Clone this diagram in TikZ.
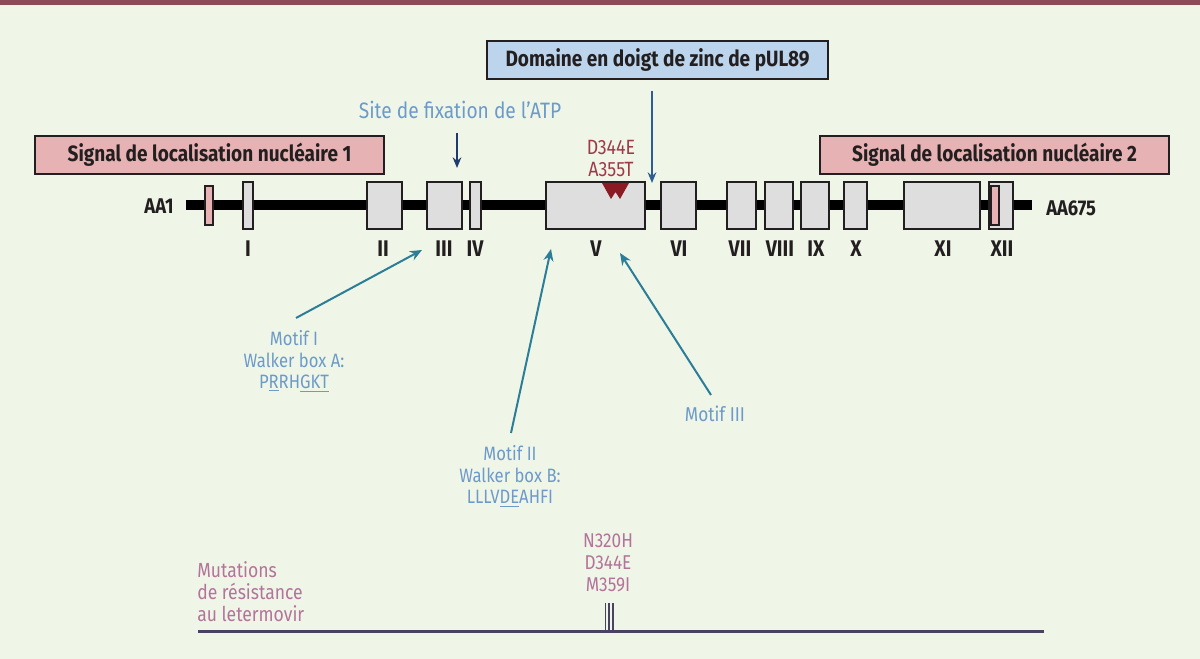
\documentclass[tikz,border=0pt]{standalone}
\usepackage{fontspec}
\setmainfont{Fira Sans}[FakeStretch=0.86]
\usetikzlibrary{arrows.meta}
\definecolor{bgc}{HTML}{EFF6E8}
\definecolor{topbar}{HTML}{8E4A58}
\definecolor{pinkbox}{HTML}{E6B2B3}
\definecolor{bluebox}{HTML}{BCD5EC}
\definecolor{graybox}{HTML}{DEDEDE}
\definecolor{darktext}{HTML}{231F20}
\definecolor{lbtext}{HTML}{6C9AC9}
\definecolor{tealc}{HTML}{2C7D97}
\definecolor{navy}{HTML}{1F3A6E}
\definecolor{zincarrow}{HTML}{2E5C94}
\definecolor{darkred}{HTML}{8B1A24}
\definecolor{redtext}{HTML}{9E3A48}
\definecolor{pinktext}{HTML}{B3739A}
\definecolor{baseln}{HTML}{4B4160}
\tikzset{
  titlebox/.style={draw=darktext, line width=1.2pt, inner sep=0pt, font=\fontsize{16.6}{19}\selectfont\bfseries, text=darktext},
  dombox/.style={draw=darktext, line width=0.9pt, fill=graybox, minimum height=47*0.75pt, inner sep=0pt},
  nlsbox/.style={draw=darktext, line width=0.9pt, fill=pinkbox, minimum height=39*0.75pt, inner sep=0pt},
  roman/.style={font=\fontsize{17}{19}\selectfont\bfseries, text=darktext, inner sep=0pt},
  aalabel/.style={font=\fontsize{16}{17}\selectfont\bfseries, text=darktext, inner sep=0pt},
  bluetext/.style={font=\fontsize{16.7}{16.5}\selectfont, text=lbtext, align=center, inner sep=0pt},
  mottext/.style={font=\fontsize{14.5}{16.3}\selectfont, text=lbtext, align=center, inner sep=0pt},
  redlbl/.style={font=\fontsize{15.5}{15.8}\selectfont, text=redtext, align=center, inner sep=0pt},
  pinklbl/.style={font=\fontsize{15.3}{16.5}\selectfont, text=pinktext, inner sep=0pt},
  tealarrow/.style={draw=tealc, line width=1.5pt, -{Stealth[length=9pt,width=7.5pt]}},
  darkarrow/.style={line width=1.4pt, -{Stealth[length=8pt,width=6.5pt]}},
}
\begin{document}
\begin{tikzpicture}[x=0.75pt,y=-0.75pt]
\useasboundingbox (0,0) rectangle (1200,659);
\fill[bgc] (0,0) rectangle (1200,659);
\fill[topbar] (0,0) rectangle (1200,5);

% title boxes
\node[titlebox, fill=pinkbox, minimum width=349*0.75pt, minimum height=38*0.75pt] (nls1) at (209.5,155) {Signal de localisation nucléaire 1};
\node[titlebox, fill=pinkbox, minimum width=349*0.75pt, minimum height=38*0.75pt] (nls2) at (994.5,155) {Signal de localisation nucléaire 2};
\node[titlebox, fill=bluebox, minimum width=341*0.75pt, minimum height=38*0.75pt] (zinc) at (657.5,60) {Domaine en doigt de zinc de pUL89};

% backbone
\coordinate (bbL) at (186,205.5);
\coordinate (bbR) at (1032,205.5);
\draw[line width=7.5pt, black] (bbL) -- (bbR);
\node[aalabel, anchor=east] (aa1) at (174,206) {AA1};
\node[aalabel, anchor=west] (aa675) at (1046,208) {AA675};

% domains
\node[nlsbox, minimum width=8*0.75pt] (nlsA) at (209,205.5) {};
\node[dombox, minimum width=10*0.75pt] (dI) at (248,205.5) {};
\node[dombox, minimum width=35*0.75pt] (dII) at (384.5,205.5) {};
\node[dombox, minimum width=35*0.75pt] (dIII) at (444.5,205.5) {};
\node[dombox, minimum width=11*0.75pt] (dIV) at (475.5,205.5) {};
\node[dombox, minimum width=99*0.75pt] (dV) at (595.5,205.5) {};
\node[dombox, minimum width=35*0.75pt] (dVI) at (678.5,205.5) {};
\node[dombox, minimum width=29*0.75pt] (dVII) at (741.5,205.5) {};
\node[dombox, minimum width=28*0.75pt] (dVIII) at (779,205.5) {};
\node[dombox, minimum width=28*0.75pt] (dIX) at (815,205.5) {};
\node[dombox, minimum width=23*0.75pt] (dX) at (855.5,205.5) {};
\node[dombox, minimum width=76*0.75pt] (dXI) at (942,205.5) {};
\node[dombox, minimum width=24*0.75pt] (dXII) at (1001,205.5) {};
\node[nlsbox, minimum width=8*0.75pt] (nlsB) at (995,205.5) {};

% roman labels
\node[roman] (lI) at (248,249) {I};
\node[roman] (lII) at (383,249) {II};
\node[roman] (lIII) at (444,249) {III};
\node[roman] (lIV) at (475,249) {IV};
\node[roman] (lV) at (596,249) {V};
\node[roman] (lVI) at (679,249) {VI};
\node[roman] (lVII) at (740,249) {VII};
\node[roman] (lVIII) at (780,249) {VIII};
\node[roman] (lIX) at (816,249) {IX};
\node[roman] (lX) at (856,249) {X};
\node[roman] (lXI) at (943,249) {XI};
\node[roman] (lXII) at (1002,249) {XII};

% red mutation triangles
\fill[darkred] (602,183) -- (629,183) -- (620,199) -- (615.5,192) -- (611,199) -- cycle;
\node[redlbl] (redmut) at (611,158.5) {D344E\\A355T};

% ATP site
\node[bluetext] (atp) at (460,110) {Site de fixation de l’ATP};
\coordinate (atpS) at (457,133);
\coordinate (atpE) at (457,168);
\draw[darkarrow, navy] (atpS) -- (atpE);

% zinc arrow
\coordinate (zincS) at (652,91);
\coordinate (zincE) at (652,183);
\draw[darkarrow, zincarrow, line width=1.2pt] (zincS) -- (zincE);

% motifs
\node[mottext] (m1) at (294,361) {Motif I\\Walker box A:\\P\underline{R}RH\underline{GKT}};
\node[mottext] (m2) at (510,476) {Motif II\\Walker box B:\\LLLV\underline{DE}AHFI};
\node[mottext, font=\fontsize{15}{16.3}\selectfont] (m3) at (715,414) {Motif III};
\coordinate (m1S) at (296,318);
\coordinate (m1E) at (422,250);
\coordinate (m2S) at (511,433);
\coordinate (m2E) at (551,249);
\coordinate (m3S) at (711,395);
\coordinate (m3E) at (620,253);
\draw[tealarrow] (m1S) -- (m1E);
\draw[tealarrow] (m2S) -- (m2E);
\draw[tealarrow] (m3S) -- (m3E);

% resistance
\node[pinklbl, align=left, anchor=west] (mutres) at (197,592) {Mutations\\de résistance\\au letermovir};
\node[redlbl, text=pinktext, font=\fontsize{15}{16.5}\selectfont] (letmut) at (608,563) {N320H\\D344E\\M359I};
\coordinate (rbL) at (198,631.5);
\coordinate (rbR) at (1044,631.5);
\draw[baseln, line width=1.6pt] (rbL) -- (rbR);
\foreach \xx/\nm in {605.5/t1,609.3/t2,613/t3}{
  \coordinate (\nm a) at (\xx,603);
  \coordinate (\nm b) at (\xx,631);
  \draw[baseln, line width=1.4pt] (\nm a) -- (\nm b);
}
\end{tikzpicture}
\end{document}
